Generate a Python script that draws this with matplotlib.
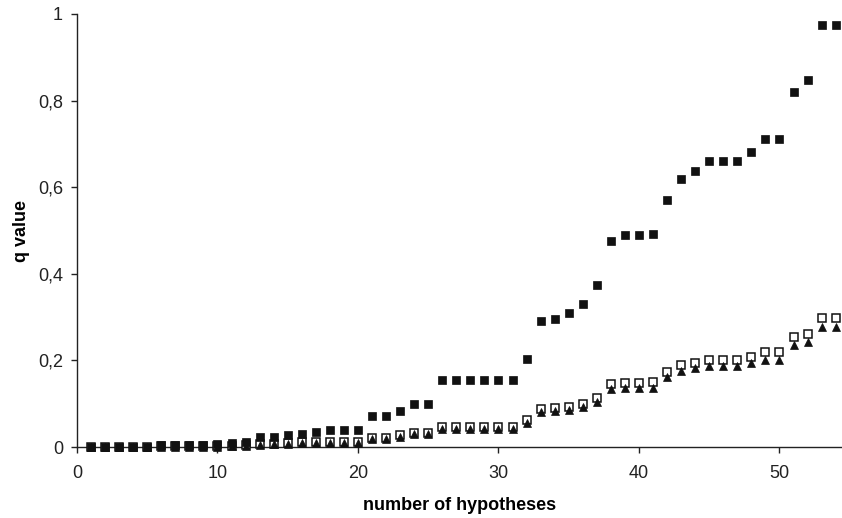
import numpy as np
import matplotlib
matplotlib.use("Agg")
import matplotlib.pyplot as plt
from matplotlib.ticker import FuncFormatter

# number of hypotheses (1..54)
n_hyp = list(range(1, 55))

# filled squares
q_filled = [0.0, 0.0, 0.0, 0.0, 0.001, 0.004, 0.005, 0.005, 0.005, 0.006,
            0.009, 0.012, 0.023, 0.023, 0.028, 0.030, 0.035, 0.039, 0.039, 0.039,
            0.071, 0.071, 0.083, 0.099, 0.099, 0.154, 0.154, 0.154, 0.154, 0.154,
            0.154, 0.204, 0.290, 0.295, 0.310, 0.330, 0.374, 0.476, 0.490, 0.490,
            0.492, 0.570, 0.619, 0.637, 0.660, 0.660, 0.660, 0.681, 0.711, 0.711,
            0.820, 0.848, 0.975, 0.975]

# open squares
q_open = [0.0, 0.0, 0.0, 0.0, 0.0, 0.002, 0.002, 0.002, 0.002, 0.002,
          0.003, 0.005, 0.007, 0.008, 0.009, 0.012, 0.012, 0.012, 0.012, 0.012,
          0.021, 0.021, 0.027, 0.032, 0.032, 0.046, 0.046, 0.046, 0.046, 0.046,
          0.046, 0.062, 0.088, 0.090, 0.093, 0.099, 0.113, 0.145, 0.148, 0.148,
          0.149, 0.173, 0.190, 0.195, 0.200, 0.200, 0.201, 0.208, 0.219, 0.219,
          0.254, 0.260, 0.297, 0.297]

# filled triangles
q_tri = [0.0, 0.0, 0.0, 0.0, 0.0, 0.001, 0.001, 0.001, 0.001, 0.001,
         0.002, 0.003, 0.005, 0.006, 0.007, 0.010, 0.010, 0.010, 0.010, 0.010,
         0.019, 0.019, 0.024, 0.029, 0.029, 0.042, 0.042, 0.042, 0.042, 0.042,
         0.042, 0.056, 0.080, 0.082, 0.086, 0.092, 0.104, 0.134, 0.137, 0.137,
         0.137, 0.161, 0.176, 0.182, 0.188, 0.188, 0.188, 0.193, 0.200, 0.200,
         0.236, 0.242, 0.277, 0.277]

plt.rcParams['font.family'] = ['Liberation Sans', 'DejaVu Sans']

fig = plt.figure(figsize=(8.42, 5.18), dpi=100)
ax = fig.add_axes([77 / 842, 71 / 518, 1 - 77 / 842, 433 / 518])

ink = '#111111'
ax.plot(n_hyp, q_open, linestyle='none', marker='s', markersize=5.2,
        markerfacecolor='white', markeredgecolor=ink, markeredgewidth=1.1,
        clip_on=False, zorder=3)
ax.plot(n_hyp, q_tri, linestyle='none', marker='^', markersize=5.5,
        markerfacecolor=ink, markeredgecolor=ink, markeredgewidth=0.5,
        clip_on=False, zorder=4)
ax.plot(n_hyp, q_filled, linestyle='none', marker='s', markersize=5.2,
        markerfacecolor=ink, markeredgecolor=ink, markeredgewidth=0.5,
        clip_on=False, zorder=5)

ax.set_xlim(0, 54.45)
ax.set_ylim(0, 1)
ax.set_xticks([0, 10, 20, 30, 40, 50])
ax.set_yticks([0, 0.2, 0.4, 0.6, 0.8, 1.0])

def comma_fmt(v, pos):
    if abs(v) < 1e-9:
        return '0'
    if abs(v - 1) < 1e-9:
        return '1'
    return ('%.1f' % v).replace('.', ',')

ax.yaxis.set_major_formatter(FuncFormatter(comma_fmt))

for side in ['top', 'right']:
    ax.spines[side].set_visible(False)
for side in ['left', 'bottom']:
    ax.spines[side].set_color('#222222')
    ax.spines[side].set_linewidth(1.0)

ax.tick_params(axis='both', direction='out', length=4, width=1.0,
               colors='#222222', labelsize=13, labelcolor='#222222')
ax.tick_params(axis='y', pad=6)
ax.tick_params(axis='x', pad=9)

ax.set_xlabel('number of hypotheses', fontsize=13, fontweight='bold', labelpad=11)
ax.set_ylabel('q value', fontsize=13, fontweight='bold', labelpad=6)

fig.savefig('out.png', dpi=100)
